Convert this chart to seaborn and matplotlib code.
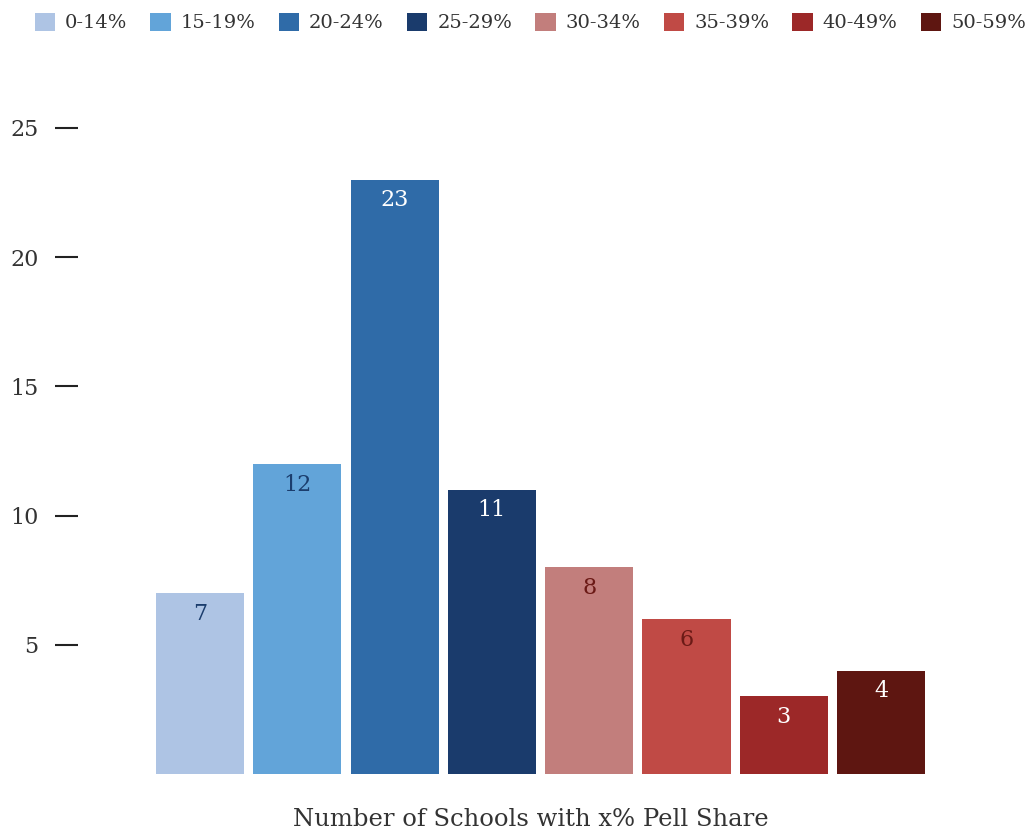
import matplotlib
matplotlib.use("Agg")
import matplotlib.pyplot as plt
import seaborn as sns
import pandas as pd

# ========================================================
# Data
# ========================================================
categories = ["0-14%", "15-19%", "20-24%", "25-29%", "30-34%", "35-39%", "40-49%", "50-59%"]
counts = [7, 12, 23, 11, 8, 6, 3, 4]
colors = ["#aec4e4", "#62a4d9", "#2f6ba8", "#1a3b6c", "#c27e7c", "#c04a45", "#9c2828", "#5e1611"]
label_colors = ["#1b3d6d", "#1b3d6d", "white", "white", "#6b1a16", "#6b1a16", "white", "white"]
yticks = [5, 10, 15, 20, 25]

df = pd.DataFrame({"band": categories, "count": counts})

sns.set_style("white")
plt.rcParams["font.family"] = ["DejaVu Serif"]
plt.rcParams["text.color"] = "#333333"

fig = plt.figure(figsize=(10.33, 8.34), dpi=100)
ax = fig.add_axes([78 / 1033, 60 / 834, (1010 - 78) / 1033, (774 - 128) / 834])

sns.barplot(
    data=df, x="band", y="count", hue="band", palette=colors,
    order=categories, hue_order=categories, width=0.905, saturation=1,
    dodge=False, legend=True, linewidth=0, ax=ax,
)

# labels inside bar tops
for i, (v, c) in enumerate(zip(counts, label_colors)):
    ax.annotate(str(v), xy=(i, v), xytext=(0, -7), textcoords="offset points",
                ha="center", va="top", fontsize=16, color=c)

ax.set_xlim((78 - 200) / 97.3, (1010 - 200) / 97.3)
ax.set_ylim(0, 25)
ax.set_yticks(yticks)
ax.set_xticks([])
ax.tick_params(axis="y", left=True, direction="out", length=16.5, width=1.5,
               color="#222222", pad=12, labelsize=16, labelcolor="#333333")
for s in ax.spines.values():
    s.set_visible(False)

ax.set_ylabel("")
ax.set_xlabel("Number of Schools with x% Pell Share", fontsize=17.5, color="#333333")
ax.xaxis.set_label_coords((531 - 78) / (1010 - 78), -46 / 646)
ax.xaxis.label.set_verticalalignment("center")

# legend on one row across the top
handles, labels = ax.get_legend_handles_labels()
ax.get_legend().remove()
fig.legend(handles, labels, loc="upper left", bbox_to_anchor=(0.026, 0.994),
           ncol=8, frameon=False, fontsize=14, handlelength=1.05, handleheight=1.05,
           handletextpad=0.5, columnspacing=1.2, borderaxespad=0)

plt.savefig("out.png", dpi=100)
